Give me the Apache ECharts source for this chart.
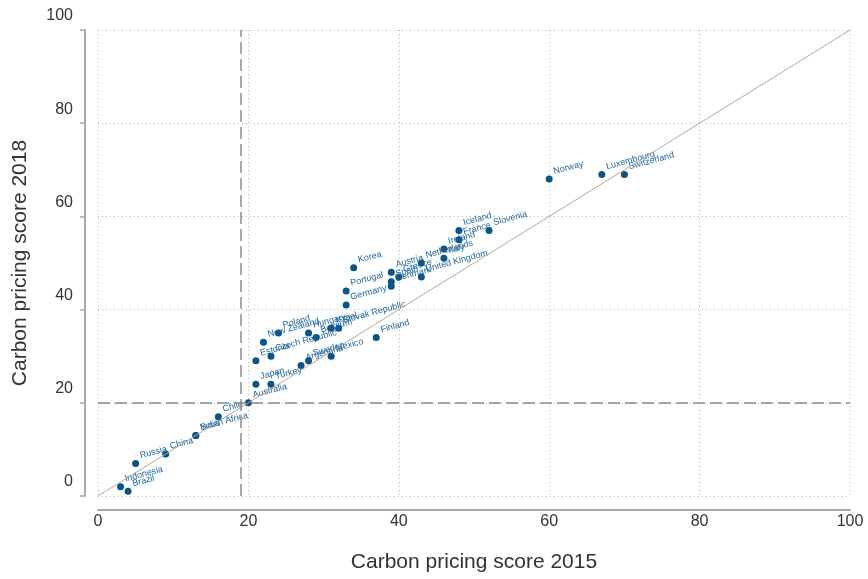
<!DOCTYPE html>
<html>
<head>
<meta charset="utf-8">
<script src="https://cdn.jsdelivr.net/npm/echarts@6/dist/echarts.min.js"></script>
<style>
  html, body { margin: 0; padding: 0; background: #fff; }
  #chart { width: 868px; height: 579px; }
</style>
</head>
<body>
<div id="chart"></div>
<script>
// countries and their carbon pricing scores
const countries = ['Indonesia', 'Brazil', 'Russia', 'China', 'South Africa', 'India', 'Chile', 'Australia',
  'Japan', 'Turkey', 'Estonia', 'Czech Republic', 'Argentina', 'Sweden', 'Mexico', 'New Zealand', 'Poland',
  'Hungary', 'Belgium', 'Israel', 'Slovak Republic', 'Finland', 'Germany', 'Portugal', 'Korea', 'Austria',
  'Spain', 'Denmark', 'Greece', 'United Kingdom', 'Netherlands', 'Italy', 'Ireland', 'Iceland', 'France',
  'Slovenia', 'Norway', 'Luxembourg', 'Switzerland']
const score2015 = [3, 4, 5, 9, 13, 13, 16, 20,
  21, 23, 21, 23, 27, 28, 31, 22, 24,
  28, 29, 31, 32, 37, 33, 33, 34, 39,
  39, 39, 40, 43, 43, 46, 46, 48, 48,
  52, 60, 67, 70]
const score2018 = [2, 1, 7, 9, 13, 13, 17, 20,
  24, 24, 29, 30, 28, 29, 30, 33, 35,
  35, 34, 36, 36, 34, 41, 44, 49, 48,
  46, 45, 47, 47, 50, 51, 53, 57, 55,
  57, 68, 69, 69]

// reference lines
const threshold2015 = 19
const threshold2018 = 20
const axisMin = 0
const axisMax = 100
const tickStep = 20

const chart = echarts.init(document.getElementById('chart'))

const points = countries.map((c, i) => ({ name: c, value: [score2015[i], score2018[i]] }))

const gridLine = { show: true, lineStyle: { color: '#b5b5b5', width: 1, type: [1, 3] } }
const font = 'Liberation Sans, Arial'

const option = {
  animation: false,
  grid: { left: 98, right: 18, top: 30, bottom: 83 },
  xAxis: {
    type: 'value',
    min: axisMin,
    max: axisMax,
    interval: tickStep,
    offset: 14,
    name: 'Carbon pricing score 2015',
    nameLocation: 'middle',
    nameGap: 42,
    nameTextStyle: { fontSize: 21, color: '#333', fontFamily: font },
    axisLine: { show: true, onZero: false, lineStyle: { color: '#a8a8a8', width: 2 } },
    axisTick: { show: false },
    axisLabel: { fontSize: 16, color: '#333', margin: 4, fontFamily: font },
    splitLine: gridLine
  },
  yAxis: {
    type: 'value',
    min: axisMin,
    max: axisMax,
    interval: tickStep,
    offset: 13,
    name: 'Carbon pricing score 2018',
    nameLocation: 'middle',
    nameGap: 54,
    nameTextStyle: { fontSize: 21, color: '#333', fontFamily: font },
    axisLine: { show: true, onZero: false, lineStyle: { color: '#a8a8a8', width: 2 } },
    axisTick: { show: true, length: 5, lineStyle: { color: '#a8a8a8', width: 1.5 } },
    axisLabel: {
      fontSize: 16, color: '#333', margin: 12, verticalAlign: 'bottom',
      padding: [0, 0, 6, 0], fontFamily: font
    },
    splitLine: gridLine
  },
  series: [
    {
      type: 'line',
      data: [[axisMin, axisMin], [axisMax, axisMax]],
      symbol: 'none',
      silent: true,
      lineStyle: { color: '#b8a59d', width: 1 },
      markLine: {
        silent: true,
        symbol: 'none',
        label: { show: false },
        lineStyle: { color: '#8c8c8c', width: 1.5, type: [12, 5] },
        data: [{ xAxis: threshold2015 }, { yAxis: threshold2018 }]
      }
    },
    {
      type: 'scatter',
      data: points,
      symbolSize: 7,
      itemStyle: { color: '#0b5486', opacity: 1 },
      label: {
        show: true,
        formatter: '{b}',
        position: [8, -4],
        align: 'left',
        verticalAlign: 'middle',
        rotate: 15,
        fontSize: 9,
        color: '#1a639c',
        fontFamily: font
      },
      labelLayout: { hideOverlap: false }
    }
  ]
}

chart.setOption(option)
window.addEventListener('resize', function () {
  chart.resize()
})
</script>
</body>
</html>
